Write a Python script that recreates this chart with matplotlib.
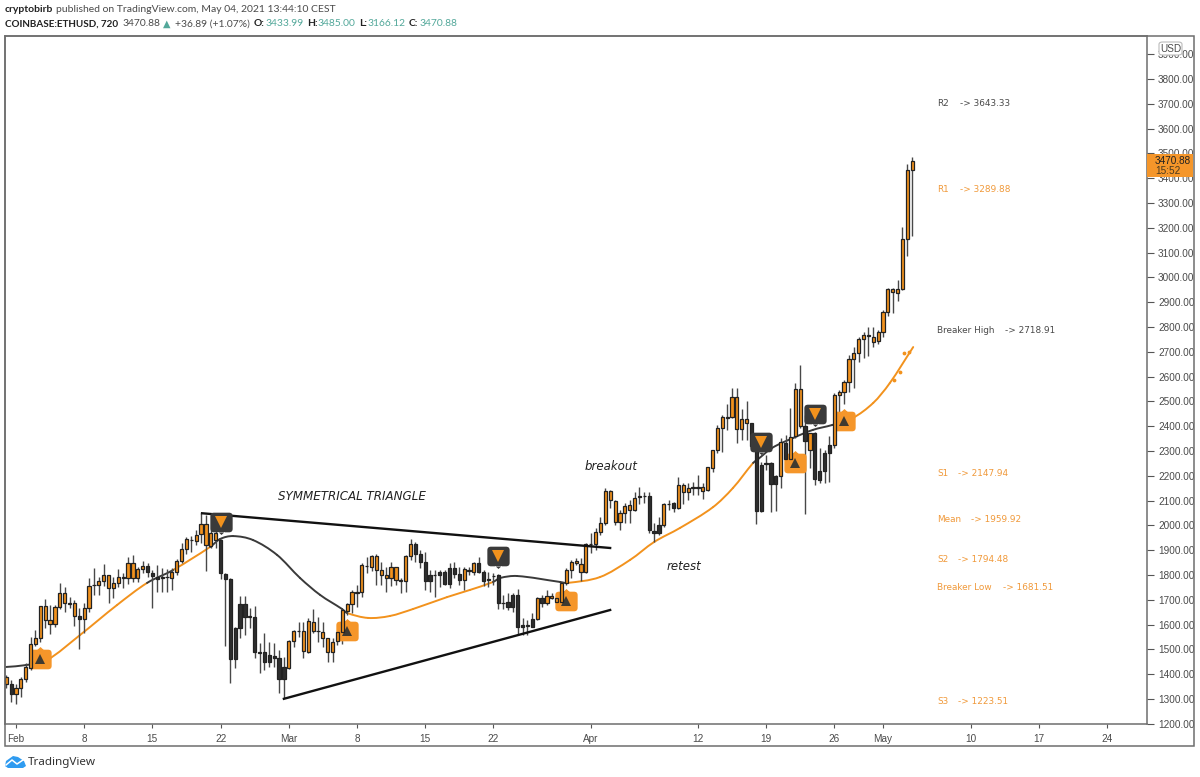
import numpy as np
from matplotlib import pyplot as plt
from matplotlib.patches import BoxStyle, FancyBboxPatch, PathPatch, Polygon, Rectangle
from matplotlib.path import Path

W, H = 1200, 777
ORANGE = '#F2921D'
LABEL_ORANGE = '#F0993A'
DARK = '#2E2E2E'
GRAY = '#4A4A4A'
TEAL = '#53A89A'
FONT = 'Lato'
SCALE_FONT = 'Liberation Sans'

# candles are 12h, first one is two candles before Feb 1
open_ = [1360, 1360, 1319, 1343, 1381, 1426, 1520, 1547, 1619, 1602, 1602, 1670, 1686, 1685, 1635, 1635,
         1621, 1667, 1759, 1761, 1777, 1749, 1749, 1769, 1788, 1787, 1787, 1787, 1823, 1838, 1808, 1793,
         1788, 1792, 1787, 1813, 1856, 1903, 1941, 1937, 1964, 1921, 1918, 1941, 1941, 1803, 1784, 1585,
         1683, 1683, 1631, 1632, 1489, 1488, 1477, 1475, 1467, 1428, 1426, 1534, 1574, 1493, 1491, 1575,
         1573, 1547, 1488, 1488, 1534, 1569, 1655, 1683, 1729, 1730, 1835, 1834, 1820, 1800, 1786, 1786,
         1780, 1776, 1776, 1877, 1925, 1885, 1854, 1799, 1799, 1811, 1813, 1829, 1829, 1804, 1780, 1818,
         1811, 1847, 1811, 1781, 1796, 1799, 1687, 1692, 1719, 1719, 1597, 1595, 1622, 1622, 1706, 1686,
         1709, 1692, 1692, 1769, 1820, 1847, 1813, 1813, 1924, 1925, 1972, 2008, 2103, 2015, 2012, 2049,
         2062, 2062, 2115, 2118, 2119, 1979, 2002, 2002, 2085, 2089, 2069, 2136, 2136, 2151, 2151, 2140,
         2143, 2230, 2304, 2393, 2435, 2436, 2387, 2387, 2414, 2412, 2320, 2244, 2251, 2253, 2199, 2201,
         2334, 2268, 2361, 2402, 2401, 2304, 2374, 2219, 2293, 2324, 2324, 2526, 2537, 2580, 2670, 2697,
         2752, 2764, 2741, 2744, 2779, 2862, 2940, 2938, 2953, 3155, 3433.99]
high = [1397, 1377, 1360, 1390, 1444, 1551, 1578, 1677, 1703, 1679, 1679, 1769, 1750, 1713, 1699, 1666,
        1686, 1787, 1827, 1793, 1844, 1801, 1793, 1823, 1807, 1874, 1881, 1834, 1856, 1847, 1820, 1840,
        1827, 1823, 1827, 1863, 1928, 1955, 1957, 1981, 2049, 2042, 1981, 1981, 1944, 1809, 1786, 1592,
        1717, 1715, 1666, 1676, 1525, 1567, 1531, 1524, 1498, 1471, 1538, 1578, 1612, 1612, 1625, 1663,
        1629, 1609, 1546, 1545, 1571, 1663, 1688, 1739, 1760, 1847, 1874, 1881, 1883, 1854, 1834, 1854,
        1834, 1786, 1881, 1944, 1934, 1901, 1894, 1820, 1820, 1820, 1820, 1847, 1854, 1834, 1834, 1834,
        1854, 1874, 1820, 1813, 1807, 1803, 1719, 1726, 1726, 1742, 1625, 1618, 1645, 1710, 1719, 1739,
        1726, 1726, 1773, 1827, 1860, 1867, 1867, 1928, 1968, 1988, 2035, 2150, 2143, 2103, 2062, 2089,
        2103, 2136, 2156, 2136, 2133, 2008, 2035, 2089, 2103, 2096, 2197, 2170, 2170, 2176, 2203, 2170,
        2236, 2306, 2405, 2445, 2490, 2553, 2553, 2468, 2502, 2414, 2344, 2257, 2284, 2257, 2203, 2351,
        2365, 2475, 2576, 2647, 2445, 2373, 2376, 2311, 2304, 2361, 2533, 2546, 2586, 2687, 2721, 2761,
        2781, 2801, 2801, 2788, 2869, 2956, 2956, 2990, 3205, 3457, 3485]
low = [1343, 1289, 1280, 1307, 1367, 1417, 1515, 1531, 1585, 1562, 1592, 1662, 1649, 1666, 1594, 1500,
       1567, 1652, 1719, 1719, 1756, 1686, 1709, 1750, 1746, 1764, 1773, 1773, 1807, 1793, 1666, 1733,
       1733, 1733, 1739, 1800, 1847, 1885, 1894, 1921, 1928, 1817, 1907, 1907, 1782, 1514, 1363, 1424,
       1545, 1558, 1585, 1464, 1406, 1417, 1428, 1430, 1323, 1303, 1420, 1511, 1551, 1464, 1484, 1565,
       1531, 1511, 1448, 1450, 1518, 1520, 1639, 1645, 1672, 1710, 1807, 1816, 1760, 1760, 1733, 1756,
       1760, 1726, 1733, 1860, 1854, 1827, 1739, 1733, 1713, 1750, 1760, 1749, 1786, 1760, 1739, 1800,
       1800, 1807, 1757, 1753, 1760, 1661, 1661, 1659, 1652, 1558, 1558, 1558, 1590, 1618, 1672, 1679,
       1702, 1670, 1679, 1760, 1786, 1840, 1777, 1809, 1887, 1901, 1961, 2002, 2069, 2002, 1982, 2008,
       2008, 2060, 2086, 2089, 1968, 1935, 1961, 1995, 2062, 2053, 2065, 2086, 2103, 2123, 2123, 2107,
       2140, 2217, 2291, 2297, 2385, 2432, 2334, 2344, 2344, 2311, 2006, 2055, 2223, 2055, 2060, 2150,
       2257, 2240, 2351, 2391, 2046, 2230, 2163, 2170, 2170, 2176, 2311, 2438, 2490, 2539, 2553, 2660,
       2674, 2683, 2721, 2731, 2761, 2844, 2858, 2906, 2950, 3088, 3166.12]
close = [1387, 1320, 1346, 1381, 1428, 1520, 1547, 1675, 1675, 1619, 1670, 1726, 1726, 1688, 1686, 1623,
         1667, 1757, 1761, 1777, 1799, 1799, 1768, 1791, 1790, 1850, 1850, 1823, 1838, 1811, 1795, 1784,
         1790, 1794, 1813, 1856, 1903, 1944, 1943, 1961, 2004, 2004, 1968, 1968, 1807, 1785, 1460, 1460,
         1585, 1632, 1633, 1491, 1487, 1451, 1451, 1467, 1379, 1379, 1534, 1575, 1576, 1575, 1614, 1612,
         1575, 1569, 1545, 1531, 1569, 1659, 1683, 1733, 1731, 1839, 1837, 1877, 1877, 1820, 1800, 1831,
         1831, 1778, 1877, 1925, 1885, 1854, 1776, 1776, 1801, 1800, 1764, 1764, 1804, 1780, 1823, 1820,
         1847, 1811, 1776, 1783, 1798, 1688, 1689, 1672, 1672, 1589, 1589, 1597, 1592, 1706, 1686, 1717,
         1717, 1706, 1769, 1820, 1854, 1856, 1844, 1924, 1926, 1972, 2008, 2140, 2139, 2100, 2049, 2080,
         2082, 2109, 2117, 2120, 1982, 1968, 1968, 2086, 2087, 2069, 2162, 2162, 2150, 2153, 2153, 2155,
         2234, 2304, 2391, 2436, 2437, 2519, 2519, 2428, 2428, 2320, 2060, 2060, 2249, 2167, 2167, 2335,
         2268, 2358, 2549, 2549, 2340, 2371, 2187, 2183, 2221, 2293, 2526, 2537, 2580, 2670, 2694, 2752,
         2768, 2766, 2761, 2779, 2862, 2952, 2952, 2952, 3155, 3433, 3470.88]

# moving average in days since Feb 1, dark where the trend is against it
ma_days = [-1.13, 1.03, 3.18, 6.57, 10.37, 13.45, 16.12, 19.92, 20.94, 22.28, 24.33, 26.8, 29.16, 31.21, 33.47,
           33.98, 36.14, 38.4, 40.76, 44.25, 46.61, 48.97, 49.69, 51.44, 55.85, 56.57, 59.96, 63.04, 65.5, 68.17,
           71.56, 73.6, 75.67, 76.08, 77.6, 79.8, 81.8, 83.8, 85.9, 88, 89.7, 92.1]
ma_prices = [1429, 1437, 1457, 1558, 1679, 1768, 1820, 1913, 1945, 1957, 1941, 1881, 1788, 1720, 1663,
             1647, 1627, 1635, 1663, 1711, 1740, 1772, 1788, 1796, 1772, 1768, 1792, 1861, 1933, 1990,
             2074, 2151, 2252, 2264, 2312, 2353, 2385, 2405, 2433, 2494, 2574, 2719]
ma_dark_spans = [(-2, 3.18), (13.45, 16.12), (19.92, 33.98), (48.97, 56.57), (75.67, 85.9)]
dot_days = [90.1, 90.7, 91.2, 91.7]
dot_prices = [2586, 2619, 2695, 2699]

signal_up_days = [2.46, 33.98, 56.5, 80, 85]
signal_up_prices = [1461, 1574, 1695, 2252, 2421]
signal_down_days = [21, 49.5, 76.5, 82]
signal_down_prices = [2014, 1877, 2336, 2449]

triangle_top_days = [19.1, 60.99]
triangle_top_prices = [2049, 1909]
triangle_bottom_days = [27.5, 60.99]
triangle_bottom_prices = [1301, 1659]

price_ticks = list(range(1200, 4000, 100))
day_ticks = [0, 7, 14, 21, 28, 35, 42, 49, 59, 70, 77, 84, 89, 98, 105, 112]
day_labels = ['Feb', '8', '15', '22', 'Mar', '8', '15', '22', 'Apr', '12', '19', '26', 'May', '10', '17', '24']

level_names = ['R2', 'R1', 'Breaker High', 'S1', 'Mean', 'S2', 'Breaker Low', 'S3']
level_values = ['3643.33', '3289.88', '2718.91', '2147.94', '1959.92', '1794.48', '1681.51', '1223.51']
level_colors = [GRAY, LABEL_ORANGE, GRAY, LABEL_ORANGE, LABEL_ORANGE, LABEL_ORANGE, LABEL_ORANGE, LABEL_ORANGE]
level_rows = [103, 190, 331, 473, 519, 560, 588, 702]
level_ends = [1010, 1010, 1055, 1008, 1021, 1008, 1053, 1008]


def pxText(x, y, s, **kwargs):
    kwargs.setdefault('family', FONT)
    kwargs.setdefault('va', 'center')
    return fig.text(x / W, 1 - y / H, s, **kwargs)


def signalMarker(notchUp):
    box = BoxStyle.Round(pad=0, rounding_size=0.16)(-0.5, -0.44, 1, 0.88, 1)
    sign = 1 if notchUp else -1
    notch = Path([(-0.14, sign * 0.43), (0.14, sign * 0.43), (0, sign * 0.56), (-0.14, sign * 0.43)])
    return Path.make_compound_path(box, notch)


def drawSmoothCurve(ax, xs, ys, darkSpans):
    # catmull-rom through the read points, one bezier per span
    xs, ys = np.array(xs, dtype=float), np.array(ys, dtype=float)
    dx, dy = np.gradient(xs), np.gradient(ys)
    for i in range(len(xs) - 1):
        scale = (xs[i + 1] - xs[i]) / 3 / max(dx[i], 1e-6), (xs[i + 1] - xs[i]) / 3 / max(dx[i + 1], 1e-6)
        verts = [(xs[i], ys[i]),
                 (xs[i] + dx[i] * scale[0], ys[i] + dy[i] * scale[0]),
                 (xs[i + 1] - dx[i + 1] * scale[1], ys[i + 1] - dy[i + 1] * scale[1]),
                 (xs[i + 1], ys[i + 1])]
        mid = (xs[i] + xs[i + 1]) / 2
        dark = any(a <= mid <= b for a, b in darkSpans)
        ax.add_patch(PathPatch(Path(verts, [Path.MOVETO, Path.CURVE4, Path.CURVE4, Path.CURVE4]), fill=False,
                               edgecolor='#3A3A3A' if dark else ORANGE, lw=1.4, zorder=2.2 if dark else 2,
                               capstyle='round'))


fig = plt.figure(figsize=(W / 100, H / 100), dpi=100)
ax = fig.add_axes([5 / W, 1 - 724 / H, 1142 / W, 688 / H])
ax.set_xlim(-1.129, 116.1)
ax.set_ylim(1199.4, 3973)

o = np.array(open_, dtype=float)
c = np.array(close, dtype=float)
days = (np.arange(len(o)) - 2) / 2
colors = [ORANGE if up else DARK for up in c >= o]

ax.vlines(days, low, high, color='#484848', lw=1, zorder=3)
ax.bar(days, np.abs(c - o), bottom=np.minimum(o, c), width=0.33, color=colors,
       edgecolor='#222222', linewidth=0.9, zorder=4)

drawSmoothCurve(ax, ma_days, ma_prices, ma_dark_spans)
ax.scatter(dot_days, dot_prices, s=3, color=ORANGE, zorder=2)

ax.plot(signal_up_days, signal_up_prices, ls='', marker=signalMarker(True), ms=18, color='#F5962A', mew=0, zorder=3.5)
ax.plot(signal_up_days, signal_up_prices, ls='', marker='^', ms=6.5, color='#3F3A30', mew=0, zorder=3.6)
ax.plot(signal_down_days, signal_down_prices, ls='', marker=signalMarker(False), ms=18, color='#3A3A3A', mew=0, zorder=5)
ax.plot(signal_down_days, signal_down_prices, ls='', marker='v', ms=8, color=ORANGE, mew=0, zorder=5.1)

ax.plot(triangle_top_days, triangle_top_prices, color='#111111', lw=1.7, zorder=4.5)
ax.plot(triangle_bottom_days, triangle_bottom_prices, color='#111111', lw=1.7, zorder=4.5)

ax.yaxis.tick_right()
ax.set_yticks(price_ticks)
ax.set_yticklabels([f'{p:.2f}' for p in price_ticks], family=SCALE_FONT, fontsize=7.2, color=GRAY)
ax.set_xticks(day_ticks)
ax.set_xticklabels(day_labels, family=SCALE_FONT, fontsize=7.2, color=GRAY)
ax.tick_params(axis='y', length=5, width=0.8, color='#555555', pad=3)
ax.tick_params(axis='x', length=3, width=0.8, color='#555555', pad=4)
for spine in ax.spines.values():
    spine.set_color('#6E6E6E')
    spine.set_linewidth(1.1)

# outer frame around the price and time scales
fig.add_artist(Rectangle((5 / W, 1 - 746 / H), 1189 / W, 710 / H, transform=fig.transFigure,
                         fill=False, edgecolor='#6E6E6E', lw=1.1))

# USD tag and last price tag sit on top of the scale labels
fig.add_artist(FancyBboxPatch((1159 / W, 1 - 55 / H), 23 / W, 13 / H, transform=fig.transFigure,
                              boxstyle='round,pad=0,rounding_size=0.003', fc='white', ec='#BBBBBB',
                              lw=0.8, zorder=5))
pxText(1170.5, 48.5, 'USD', fontsize=7.2, color=GRAY, ha='center', zorder=6, family=SCALE_FONT)
fig.add_artist(Rectangle((1147 / W, 1 - 177 / H), 46 / W, 23 / H, transform=fig.transFigure,
                         fc='#F5962A', ec='none', zorder=5))
pxText(1155, 160.5, '3470.88', fontsize=7.2, color='#222222', zorder=6, family=SCALE_FONT)
pxText(1155, 171.5, '15:52', fontsize=7.2, color='#4A3A20', zorder=6, family=SCALE_FONT)

for name, value, color, y, end in zip(level_names, level_values, level_colors, level_rows, level_ends):
    pxText(937, y, name, fontsize=6.4, color=color, family='DejaVu Sans')
    pxText(end, y, '-> ' + value, fontsize=6.4, color=color, family='DejaVu Sans', ha='right')

pxText(278, 497, 'SYMMETRICAL TRIANGLE', fontsize=8.6, style='italic', color='#222222', family='DejaVu Sans')
pxText(585, 467, 'breakout', fontsize=8.5, style='italic', color='#222222', family='DejaVu Sans')
pxText(667, 567, 'retest', fontsize=8.5, style='italic', color='#222222', family='DejaVu Sans')

# header
pxText(5, 10, 'cryptobirb', fontsize=7.5, weight='bold', color='#222222')
pxText(56, 10, 'published on TradingView.com, May 04, 2021 13:44:10 CEST', fontsize=7.5, color=GRAY)
pxText(5, 24, 'COINBASE:ETHUSD, 720', fontsize=7.1, weight='bold', color='#222222')
pxText(123, 24, '3470.88', fontsize=7.4, color=GRAY)
pxText(163, 24, '▲', fontsize=7, color=TEAL, family='DejaVu Sans')
pxText(175, 24, '+36.89 (+1.07%)', fontsize=7.4, color=GRAY)
for x, valueX, name, value in [(254, 266, 'O:', '3433.99'), (307, 317, 'H:', '3485.00'),
                               (359, 368, 'L:', '3166.12'), (409, 419, 'C:', '3470.88')]:
    pxText(x, 24, name, fontsize=7.4, weight='bold', color='#222222')
    pxText(valueX, 24, value, fontsize=7.4, color=TEAL)

# footer logo
fig.add_artist(Polygon([(5 / W, 1 - 766 / H), (6 / W, 1 - 761 / H), (13 / W, 1 - 756 / H), (18 / W, 1 - 757 / H),
                        (24 / W, 1 - 761 / H), (26 / W, 1 - 766 / H), (23 / W, 1 - 768 / H), (8 / W, 1 - 768 / H)],
                       closed=True, transform=fig.transFigure, fc='#2F9BF0', ec='none'))
fig.add_artist(plt.Line2D([6 / W, 12 / W, 17 / W, 23 / W], [1 - 765 / H, 1 - 760 / H, 1 - 764 / H, 1 - 760 / H],
                          transform=fig.transFigure, color='white', lw=1.1))
pxText(28, 762, 'TradingView', fontsize=8.4, color='#333333', family='Noto Sans')

fig.savefig('out.png', dpi=100)
